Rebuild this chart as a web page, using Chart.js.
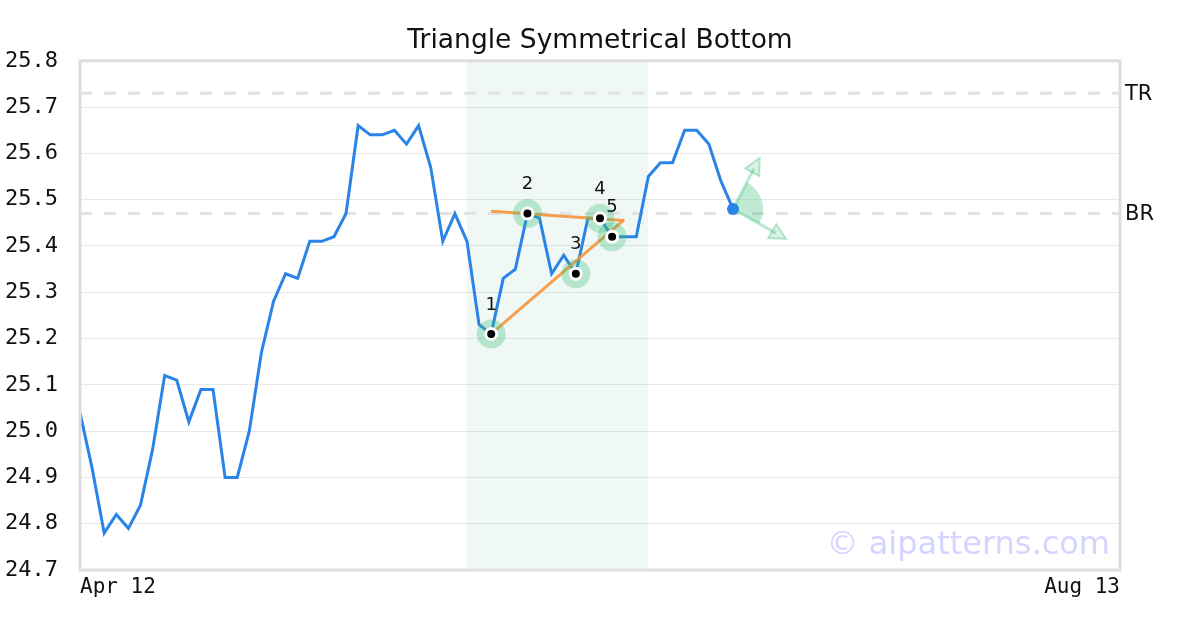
<!DOCTYPE html>
<html lang="en">
<head>
    <meta charset="UTF-8">
    <title>Triangle Symmetrical Bottom</title>
    <script src="https://cdn.jsdelivr.net/npm/chart.js"></script>
    <style>
        html, body { margin: 0; padding: 0; background: #fff; }
        #wrap { width: 1200px; height: 630px; }
    </style>
</head>
<body>
<div id="wrap"><canvas id="patternChart" width="1200" height="630"></canvas></div>

<script>
// data
const tickLabels = ["Apr 12", "Aug 13"];
const xMax = 86;
const prices = [
    25.04, 24.92, 24.78, 24.82, 24.79, 24.84, 24.96, 25.12, 25.11, 25.02,
    25.09, 25.09, 24.90, 24.90, 25.00, 25.17, 25.28, 25.34, 25.33, 25.41,
    25.41, 25.42, 25.47, 25.66, 25.64, 25.64, 25.65, 25.62, 25.66, 25.57,
    25.41, 25.47, 25.41, 25.23, 25.21, 25.33, 25.35, 25.47, 25.46, 25.34,
    25.38, 25.34, 25.46, 25.46, 25.42, 25.42, 25.42, 25.55, 25.58, 25.58,
    25.65, 25.65, 25.62, 25.54, 25.48
];
const pivotIdx = [34, 37, 41, 43, 44];
const pivotNames = ["1", "2", "3", "4", "5"];
const upperTrend = [{ x: 34, y: 25.475 }, { x: 45, y: 25.455 }];
const lowerTrend = [{ x: 34, y: 25.21 }, { x: 45, y: 25.457 }];
const zoneRange = [32, 47];
const levelNames = ["TR", "BR"];
const levelValues = [25.73, 25.47];
const arrowTips = [{ x: 56.2, y: 25.59 }, { x: 58.4, y: 25.415 }];

const blue = "#2a84e8";
const green = "rgba(60, 190, 120, 0.32)";
const lastIdx = prices.length - 1;

const overlay = {
    id: "overlay",
    beforeDatasetsDraw(chart) {
        const { ctx, chartArea: a, scales: { x, y } } = chart;
        ctx.save();
        // pattern zone
        ctx.fillStyle = "rgba(0, 140, 80, 0.06)";
        const x0 = x.getPixelForValue(zoneRange[0]);
        const x1 = x.getPixelForValue(zoneRange[1]);
        ctx.fillRect(x0, a.top, x1 - x0, a.bottom - a.top);

        // TR / BR levels
        ctx.strokeStyle = "#e2e2e2";
        ctx.lineWidth = 3;
        ctx.setLineDash([12, 12]);
        levelValues.forEach((v, i) => {
            const py = y.getPixelForValue(v);
            ctx.beginPath();
            ctx.moveTo(a.left, py);
            ctx.lineTo(a.right, py);
            ctx.stroke();
            ctx.fillStyle = "#111";
            ctx.font = "21px 'DejaVu Sans'";
            ctx.textAlign = "left";
            ctx.textBaseline = "middle";
            ctx.fillText(levelNames[i], a.right + 5, py + 1);
        });
        ctx.setLineDash([]);

        // breakout arrows and wedge
        const cx = x.getPixelForValue(lastIdx);
        const cy = y.getPixelForValue(prices[lastIdx]);
        const angles = arrowTips.map(t => Math.atan2(y.getPixelForValue(t.y) - cy, x.getPixelForValue(t.x) - cx));
        ctx.fillStyle = green;
        ctx.beginPath();
        ctx.moveTo(cx, cy);
        ctx.arc(cx, cy, 30, angles[0], angles[1]);
        ctx.closePath();
        ctx.fill();

        arrowTips.forEach((t, i) => {
            const tx = x.getPixelForValue(t.x);
            const ty = y.getPixelForValue(t.y);
            const ang = angles[i];
            ctx.strokeStyle = "rgba(60, 190, 120, 0.35)";
            ctx.lineWidth = 3;
            ctx.beginPath();
            ctx.moveTo(cx, cy);
            ctx.lineTo(tx - 12 * Math.cos(ang), ty - 12 * Math.sin(ang));
            ctx.stroke();
            ctx.beginPath();
            ctx.moveTo(tx, ty);
            ctx.lineTo(tx - 16 * Math.cos(ang) + 8 * Math.sin(ang), ty - 16 * Math.sin(ang) - 8 * Math.cos(ang));
            ctx.lineTo(tx - 16 * Math.cos(ang) - 8 * Math.sin(ang), ty - 16 * Math.sin(ang) + 8 * Math.cos(ang));
            ctx.closePath();
            ctx.fillStyle = "rgba(60, 190, 120, 0.2)";
            ctx.fill();
            ctx.lineWidth = 2;
            ctx.stroke();
        });
        ctx.restore();
    },
    afterDatasetsDraw(chart) {
        const { ctx, chartArea: a, scales: { x, y } } = chart;
        ctx.save();
        ctx.fillStyle = "#111";
        ctx.font = "18px 'DejaVu Sans'";
        ctx.textAlign = "center";
        ctx.textBaseline = "middle";
        pivotIdx.forEach((idx, i) => {
            ctx.fillText(pivotNames[i], x.getPixelForValue(idx), y.getPixelForValue(prices[idx]) - 29);
        });

        ctx.fillStyle = "rgba(120, 120, 255, 0.32)";
        ctx.font = "32px 'DejaVu Sans'";
        ctx.textAlign = "right";
        ctx.textBaseline = "alphabetic";
        ctx.fillText("\u00a9 aipatterns.com", a.right - 10, a.bottom - 16);

        ctx.strokeStyle = "#dedede";
        ctx.lineWidth = 3;
        ctx.strokeRect(a.left, a.top, a.right - a.left, a.bottom - a.top);
        ctx.restore();
    }
};

new Chart(document.getElementById("patternChart"), {
    type: "line",
    data: {
        datasets: [
            {
                data: prices.map((v, i) => ({ x: i, y: v })),
                borderColor: blue, borderWidth: 3, pointRadius: 0, tension: 0, order: 5
            },
            {
                data: upperTrend,
                borderColor: "rgba(245, 150, 60, 0.9)", borderWidth: 3, pointRadius: 0, order: 4
            },
            {
                data: lowerTrend,
                borderColor: "rgba(245, 150, 60, 0.9)", borderWidth: 3, pointRadius: 0, order: 4
            },
            {
                data: pivotIdx.map(i => ({ x: i, y: prices[i] })),
                showLine: false, pointRadius: 14.5, pointBackgroundColor: green, pointBorderWidth: 0, order: 3
            },
            {
                data: pivotIdx.map(i => ({ x: i, y: prices[i] })),
                showLine: false, pointRadius: 5.5, pointBackgroundColor: "#000",
                pointBorderColor: "#fff", pointBorderWidth: 3, order: 2
            },
            {
                data: [{ x: lastIdx, y: prices[lastIdx] }],
                showLine: false, pointRadius: 6, pointBackgroundColor: blue, pointBorderWidth: 0, order: 1
            }
        ]
    },
    options: {
        responsive: false,
        animation: false,
        events: [],
        layout: { padding: 0 },
        plugins: {
            legend: { display: false },
            tooltip: { enabled: false },
            title: {
                display: true,
                text: "Triangle Symmetrical Bottom",
                color: "#111",
                font: { family: "'DejaVu Sans'", size: 26.5, weight: "normal" },
                padding: { top: 25, bottom: 4 }
            }
        },
        scales: {
            x: {
                type: "linear",
                min: 0,
                max: xMax,
                grid: { display: false, drawTicks: false },
                border: { display: false },
                afterBuildTicks: s => { s.ticks = [{ value: 0 }, { value: xMax }]; },
                afterFit: s => { s.height = 60; },
                ticks: {
                    autoSkip: false,
                    maxRotation: 0,
                    align: "inner",
                    padding: 5,
                    color: "#111",
                    font: { family: "'DejaVu Sans Mono'", size: 21 },
                    callback: (v, i) => tickLabels[i]
                }
            },
            y: {
                min: 24.7,
                max: 25.8,
                grid: { color: "#e8e8e8", lineWidth: 1, drawTicks: false },
                border: { display: false },
                afterFit: s => { s.width = 80; },
                ticks: {
                    stepSize: 0.1,
                    padding: 22,
                    color: "#111",
                    font: { family: "'DejaVu Sans Mono'", size: 22 },
                    callback: v => v.toFixed(1)
                }
            },
            spacer: {
                type: "linear",
                position: "right",
                grid: { display: false, drawTicks: false },
                border: { display: false },
                ticks: { display: false },
                afterFit: s => { s.width = 80; }
            }
        }
    },
    plugins: [overlay]
});
</script>
</body>
</html>
